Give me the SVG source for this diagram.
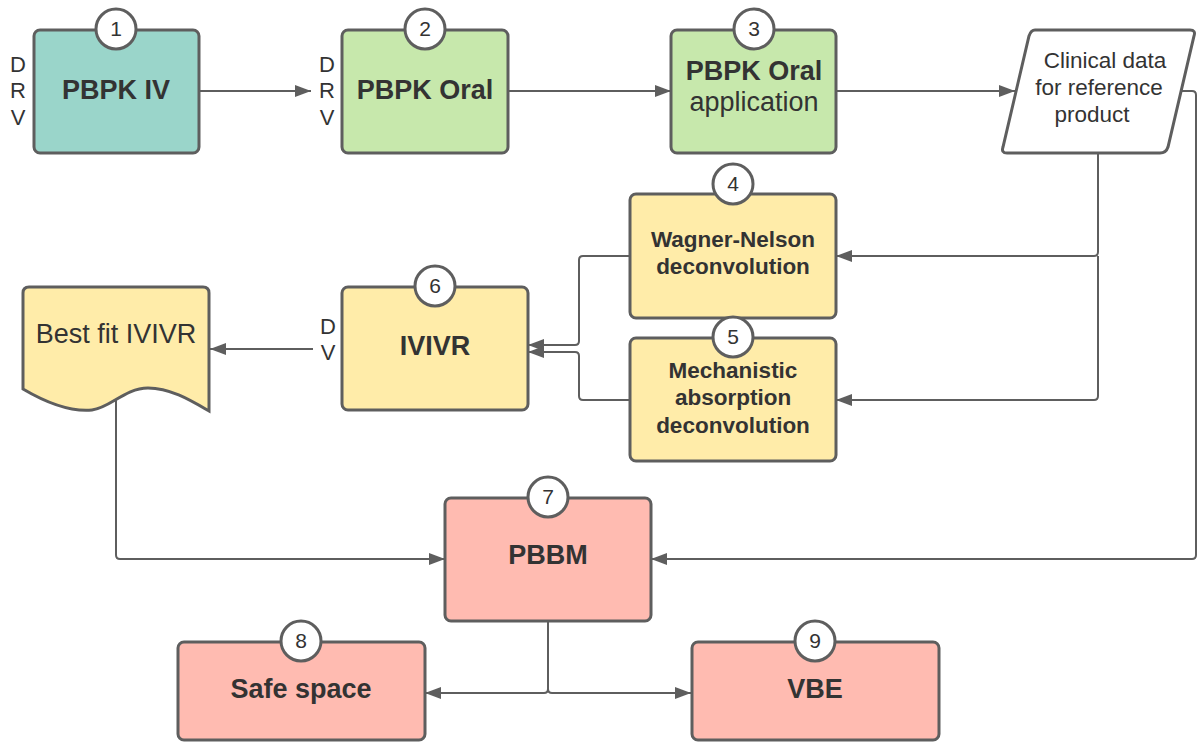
<svg xmlns="http://www.w3.org/2000/svg" width="1198" height="742" viewBox="0 0 1198 742">
<defs>
<marker id="arr" viewBox="0 0 16 12" refX="16" refY="6" markerWidth="16" markerHeight="12" markerUnits="userSpaceOnUse" orient="auto">
<path d="M0,0 L16,6 L0,12 z" fill="#5e5e5e"/>
</marker>
</defs>
<style>
.box{stroke:#5e5e5e;stroke-width:3}
.teal{fill:#9ad5ca}
.green{fill:#c7e8ac}
.yellow{fill:#ffeca9}
.red{fill:#ffbbb1}
.white{fill:#ffffff}
.badge{fill:#ffffff;stroke:#5e5e5e;stroke-width:3}
.num{font-family:"Liberation Sans",Arial,sans-serif;font-size:21px;fill:#333333;text-anchor:middle}
.t{font-family:"Liberation Sans",Arial,sans-serif;font-size:27px;fill:#333333;text-anchor:middle}
.b{font-weight:bold}
.m{font-family:"Liberation Sans",Arial,sans-serif;font-size:22.5px;fill:#333333;text-anchor:middle;font-weight:bold}
.c{font-family:"Liberation Sans",Arial,sans-serif;font-size:22.5px;fill:#333333;text-anchor:middle}
.lab{font-family:"Liberation Sans",Arial,sans-serif;font-size:22px;fill:#333333;text-anchor:middle}
.conn{fill:none;stroke:#5e5e5e;stroke-width:2;marker-end:url(#arr)}
</style>

<g id="connectors">
<path class="conn" d="M199,91 H311"/>
<path class="conn" d="M508,91 H671"/>
<path class="conn" d="M836,91 H1015"/>
<path class="conn" d="M1098,153 V252 Q1098,256 1094,256 H836"/>
<path class="conn" d="M1098,256 V396 Q1098,400 1094,400 H836"/>
<path class="conn" d="M630,256 H583 Q579,256 579,260 V341 Q579,345 575,345 H528"/>
<path class="conn" d="M630,400 H583 Q579,400 579,396 V356 Q579,352 575,352 H528"/>
<path class="conn" d="M313,349 H210"/>
<path class="conn" d="M116,399 V555 Q116,559 120,559 H445"/>
<path class="conn" d="M1181,91 H1192 Q1196,91 1196,95 V555 Q1196,559 1192,559 H651"/>
<path class="conn" d="M548,622 V689 Q548,693 544,693 H425"/>
<path class="conn" d="M548,622 V689 Q548,693 552,693 H691"/>
</g>

<g id="node1">
<rect class="box teal" x="34" y="30" width="165" height="123" rx="6"/>
<circle class="badge" cx="116" cy="29" r="20"/>
<text class="num" x="116" y="36">1</text>
<text class="t b" x="116" y="99">PBPK IV</text>
<text class="lab" x="18" y="72">D</text>
<text class="lab" x="18" y="98">R</text>
<text class="lab" x="18" y="125">V</text>
</g>

<g id="node2">
<rect class="box green" x="342" y="30" width="166" height="123" rx="6"/>
<circle class="badge" cx="425" cy="29" r="20"/>
<text class="num" x="425" y="36">2</text>
<text class="t b" x="425" y="99">PBPK Oral</text>
<text class="lab" x="327" y="72">D</text>
<text class="lab" x="327" y="98">R</text>
<text class="lab" x="327" y="125">V</text>
</g>

<g id="node3">
<rect class="box green" x="671" y="30" width="165" height="123" rx="6"/>
<circle class="badge" cx="754" cy="29" r="20"/>
<text class="num" x="754" y="36">3</text>
<text class="t b" x="754" y="80">PBPK Oral</text>
<text class="t" x="754" y="111">application</text>
</g>

<g id="clinical">
<path class="box white" d="M1035,30 H1190 Q1196,30 1194,36 L1168,147 Q1166,153 1160,153 H1007 Q1001,153 1003,147 L1029,36 Q1031,30 1035,30 Z"/>
<text class="c" x="1105" y="68">Clinical data</text>
<text class="c" x="1099" y="95">for reference</text>
<text class="c" x="1092" y="122">product</text>
</g>

<g id="node4">
<rect class="box yellow" x="630" y="194" width="206" height="124" rx="6"/>
<circle class="badge" cx="733" cy="184" r="20"/>
<text class="num" x="733" y="191">4</text>
<text class="m" x="733" y="247">Wagner-Nelson</text>
<text class="m" x="733" y="274">deconvolution</text>
</g>

<g id="node5">
<rect class="box yellow" x="630" y="338" width="206" height="123" rx="6"/>
<circle class="badge" cx="733" cy="337" r="20"/>
<text class="num" x="733" y="344">5</text>
<text class="m" x="733" y="378">Mechanistic</text>
<text class="m" x="733" y="405">absorption</text>
<text class="m" x="733" y="433">deconvolution</text>
</g>

<g id="node6">
<rect class="box yellow" x="342" y="287" width="186" height="123" rx="6"/>
<circle class="badge" cx="435" cy="286" r="20"/>
<text class="num" x="435" y="293">6</text>
<text class="t b" x="435" y="355">IVIVR</text>
<text class="lab" x="328" y="334">D</text>
<text class="lab" x="328" y="360">V</text>
</g>

<g id="bestfit">
<path class="box yellow" d="M23,293 Q23,287 29,287 H203 Q209,287 209,293 V411 C190,400 170,388 148,388 C125,388 110,408 92,410 C70,412 45,402 23,389 Z"/>
<text class="t" x="116" y="343">Best fit IVIVR</text>
</g>

<g id="node7">
<rect class="box red" x="445" y="498" width="206" height="123" rx="6"/>
<circle class="badge" cx="548" cy="497" r="20"/>
<text class="num" x="548" y="504">7</text>
<text class="t b" x="548" y="564">PBBM</text>
</g>

<g id="node8">
<rect class="box red" x="178" y="642" width="247" height="98" rx="6"/>
<circle class="badge" cx="301" cy="641" r="20"/>
<text class="num" x="301" y="648">8</text>
<text class="t b" x="301" y="698">Safe space</text>
</g>

<g id="node9">
<rect class="box red" x="692" y="642" width="247" height="98" rx="6"/>
<circle class="badge" cx="815" cy="641" r="20"/>
<text class="num" x="815" y="648">9</text>
<text class="t b" x="815" y="698">VBE</text>
</g>
</svg>
